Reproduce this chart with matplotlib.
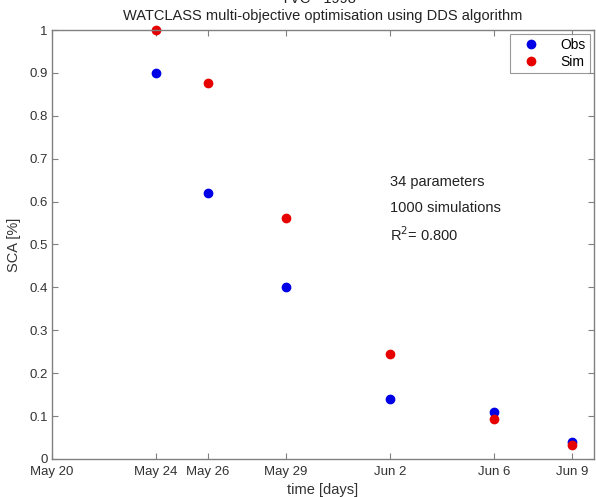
#!/usr/bin/env python3
"""Observed vs simulated SCA scatter, WATCLASS DDS calibration."""

import matplotlib
matplotlib.use("Agg")
import matplotlib.pyplot as plt
import matplotlib.dates as mdates
import numpy as np

plt.rcParams["font.family"] = ["Liberation Sans", "DejaVu Sans"]

dates = np.array(["1998-05-24", "1998-05-26", "1998-05-29", "1998-06-02",
                  "1998-06-06", "1998-06-09"], dtype="datetime64[D]")
obs = [0.90, 0.62, 0.40, 0.14, 0.11, 0.04]
sim = [1.00, 0.877, 0.562, 0.245, 0.094, 0.032]

tick_dates = np.array(["1998-05-20", "1998-05-24", "1998-05-26", "1998-05-29",
                       "1998-06-02", "1998-06-06", "1998-06-09"], dtype="datetime64[D]")
tick_labels = ["May 20", "May 24", "May 26", "May 29", "Jun 2", "Jun 6", "Jun 9"]
y_ticks = [0, 0.1, 0.2, 0.3, 0.4, 0.5, 0.6, 0.7, 0.8, 0.9, 1]
y_labels = ["0", "0.1", "0.2", "0.3", "0.4", "0.5", "0.6", "0.7", "0.8", "0.9", "1"]

fig = plt.figure(figsize=(5.96, 4.97), dpi=100)
ax = fig.add_axes([0.0872, 0.0765, 0.9094, 0.8631])

ax.plot(dates, obs, "o", color="#0000e6", markersize=6, label="Obs", clip_on=False)
ax.plot(dates, sim, "o", color="#e60000", markersize=6, label="Sim", clip_on=False)

x0 = mdates.date2num(np.datetime64("1998-05-20"))
ax.set_xlim(x0, x0 + 20.85)
ax.set_ylim(0, 1)
ax.set_xticks(tick_dates)
ax.set_xticklabels(tick_labels)
ax.set_yticks(y_ticks)
ax.set_yticklabels(y_labels)

for side in ax.spines.values():
    side.set_color("#808080")
    side.set_linewidth(1.0)
ax.tick_params(direction="in", top=True, right=True, length=4, width=0.8,
               color="#808080", labelsize=9.5, labelcolor="#333333")
ax.tick_params(axis="x", pad=5)
ax.tick_params(axis="y", pad=3)

ax.set_xlabel("time [days]", fontsize=10.5, color="#333333", labelpad=4)
ax.set_ylabel("SCA [%]", fontsize=10.5, color="#333333", labelpad=6)
ax.set_title("TVC - 1998 -\nWATCLASS multi-objective optimisation using DDS algorithm",
             fontsize=10.5, color="#222222", pad=7.5, linespacing=1.25)

ax.text(0.624, 0.646, "34 parameters", transform=ax.transAxes, fontsize=10.5,
        va="center", color="#222222")
ax.text(0.624, 0.585, "1000 simulations", transform=ax.transAxes, fontsize=10.5,
        va="center", color="#222222")
ax.text(0.624, 0.522, "R$^2$= 0.800", transform=ax.transAxes, fontsize=10.5,
        va="center", color="#222222")

leg = ax.legend(loc="upper right", fontsize=10, frameon=True, fancybox=False,
                handletextpad=0.9, borderaxespad=0.3, borderpad=0.3,
                handlelength=2.4, labelspacing=0.2, markerfirst=True)
leg.get_frame().set_edgecolor("#808080")
leg.get_frame().set_linewidth(0.8)

fig.savefig("out.png", dpi=100)
